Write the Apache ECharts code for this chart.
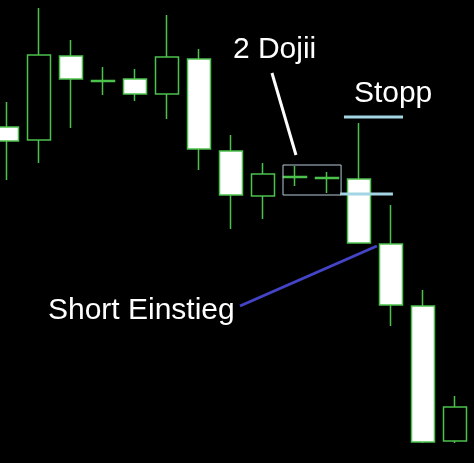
<!DOCTYPE html>
<html>
<head>
<meta charset="utf-8">
<script src="https://cdn.jsdelivr.net/npm/echarts@6/dist/echarts.min.js"></script>
<style>
  html, body { margin: 0; padding: 0; background: #000; }
  #main { width: 474px; height: 463px; }
</style>
</head>
<body>
<div id="main"></div>
<script>
var myChart = echarts.init(document.getElementById('main'));

// candle labels (not shown on the chart)
const categories = ['1', '2', '3', '4', '5', '6', '7', '8', '9', '10', '11', '12', '13', '14', '15'];

// [open, close, low, high]
const candles = [
  [137.3, 135.9, 132.0, 139.8],
  [136.0, 144.5, 133.7, 149.2],
  [144.4, 142.1, 137.2, 146.0],
  [141.95, 141.85, 140.5, 143.3],
  [142.1, 140.6, 139.9, 143.1],
  [140.6, 144.3, 138.1, 148.5],
  [144.1, 135.1, 133.0, 145.1],
  [134.9, 130.5, 127.1, 136.5],
  [130.4, 132.6, 128.1, 133.7],
  [132.35, 132.25, 131.4, 133.4],
  [132.25, 132.15, 130.7, 132.8],
  [132.1, 125.7, 125.7, 137.7],
  [125.6, 119.5, 117.4, 129.5],
  [119.4, 105.8, 105.7, 121.0],
  [105.9, 109.3, 105.7, 110.4]
];

// annotation lines, x in candle index units
const stopLine = [[10.53, 138.3], [12.375, 138.3]];
const entryLine = [[10.41, 130.6], [12.06, 130.6]];
const dojiBox = [[8.625, 133.5], [10.44, 133.5], [10.44, 130.5], [8.625, 130.5], [8.625, 133.5]];
const dojiPointer = [[8.28, 142.7], [9.03, 134.5]];
const entryPointer = [[7.28, 119.4], [11.56, 125.4]];

// annotation texts [x, y, text]
const notes = [
  [7.06, 145.0, '2 Dojii'],
  [10.84, 140.6, 'Stopp'],
  [1.28, 118.9, 'Short Einstieg']
];

function annoLine(data, color, width) {
  return {
    type: 'line',
    xAxisIndex: 1,
    data: data,
    symbol: 'none',
    silent: true,
    lineStyle: { color: color, width: width },
    z: 5
  };
}

const option = {
  backgroundColor: '#000',
  animation: false,
  grid: { left: -9, right: 3, top: 0, bottom: 0, outerBoundsMode: 'none', containLabel: false },
  xAxis: [
    {
      type: 'category',
      data: categories,
      show: false
    },
    {
      type: 'value',
      min: -0.5,
      max: 14.5,
      show: false
    }
  ],
  yAxis: {
    type: 'value',
    min: 103.7,
    max: 150,
    show: false
  },
  series: [
    {
      type: 'candlestick',
      data: candles,
      barWidth: 24,
      itemStyle: {
        color: '#000',
        color0: '#fff',
        borderColor: '#4cc24c',
        borderColor0: '#4cc24c',
        borderWidth: 1.5
      }
    },
    annoLine(stopLine, '#a3d5e3', 3),
    annoLine(entryLine, '#a3d5e3', 3),
    annoLine(dojiBox, '#b4ccd6', 1),
    annoLine(dojiPointer, '#fff', 3),
    annoLine(entryPointer, '#4444c8', 3),
    {
      type: 'scatter',
      xAxisIndex: 1,
      symbolSize: 0,
      silent: true,
      itemStyle: { opacity: 1 },
      data: notes.map(function (n) { return { value: [n[0], n[1]], name: n[2] }; }),
      label: {
        show: true,
        position: 'inside',
        align: 'left',
        verticalAlign: 'middle',
        color: '#fff',
        opacity: 1,
        textBorderWidth: 0,
        fontFamily: 'Liberation Sans',
        fontSize: 30,
        formatter: '{b}'
      },
      z: 6
    }
  ]
};

myChart.setOption(option);
</script>
</body>
</html>
